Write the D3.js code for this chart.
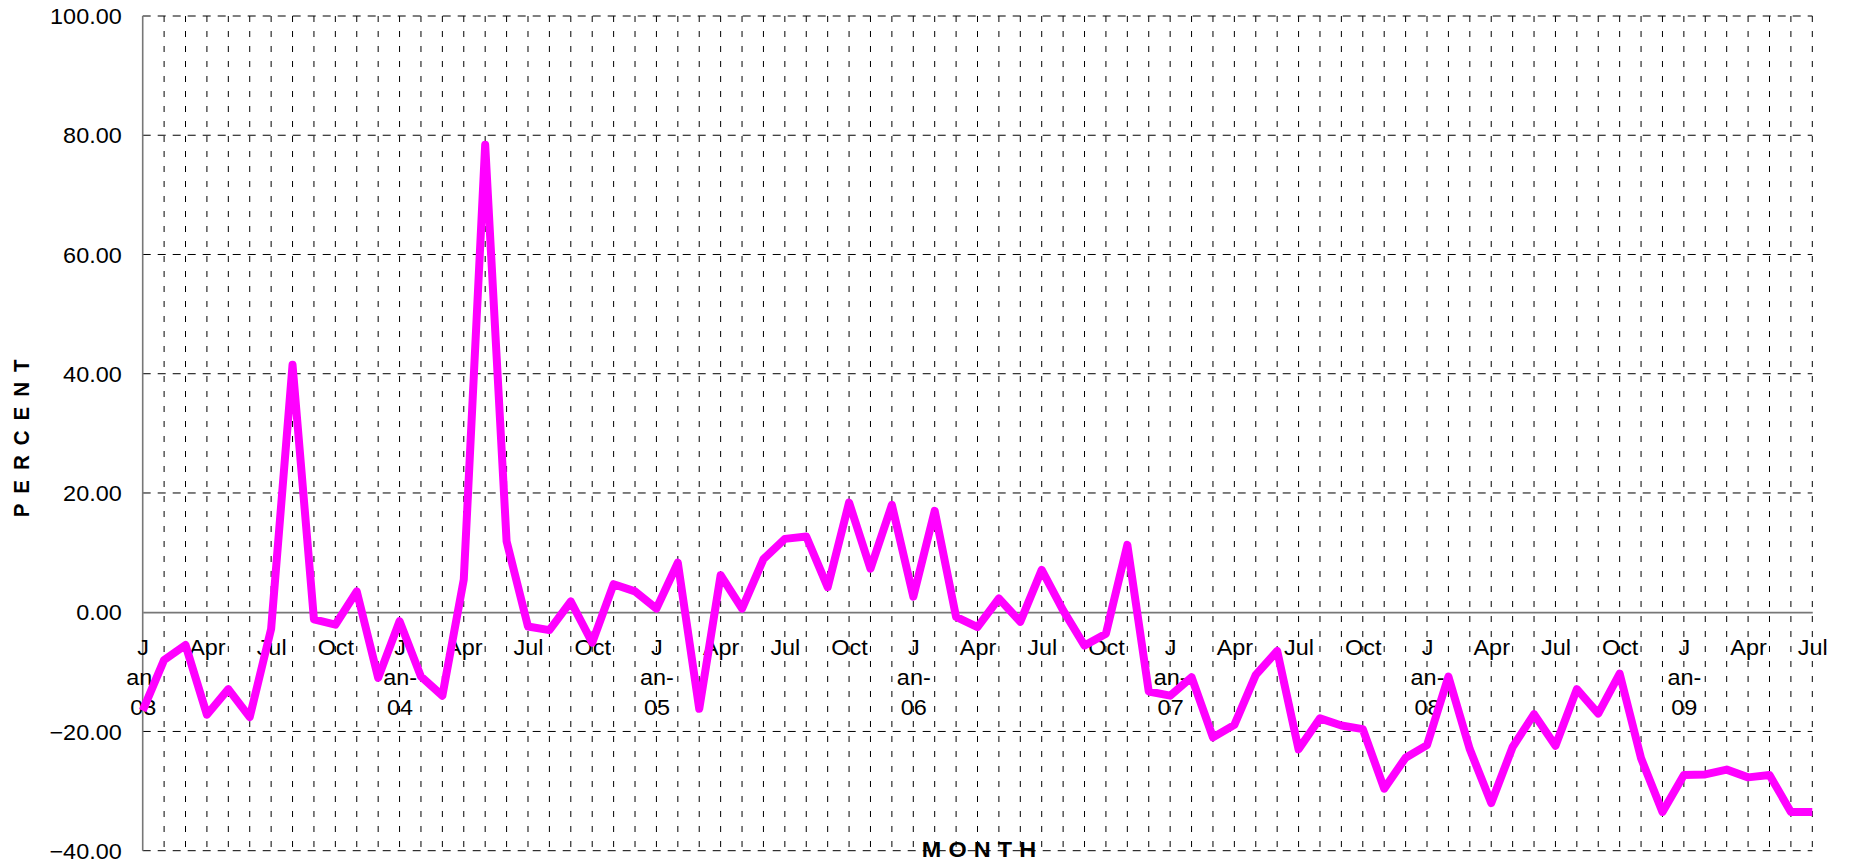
<!DOCTYPE html>
<html>
<head>
<meta charset="utf-8">
<script src="https://cdn.jsdelivr.net/npm/d3@7"></script>
<style>
  html, body { margin: 0; padding: 0; background: #fff; }
  svg { display: block; font-family: 'Liberation Sans', Arial, sans-serif; }
</style>
</head>
<body>
<div id="chart"></div>
<script>
const categories = [
  'Jan-03', 'Feb-03', 'Mar-03', 'Apr-03', 'May-03', 'Jun-03', 'Jul-03', 'Aug-03', 'Sep-03', 'Oct-03', 'Nov-03', 'Dec-03',
  'Jan-04', 'Feb-04', 'Mar-04', 'Apr-04', 'May-04', 'Jun-04', 'Jul-04', 'Aug-04', 'Sep-04', 'Oct-04', 'Nov-04', 'Dec-04',
  'Jan-05', 'Feb-05', 'Mar-05', 'Apr-05', 'May-05', 'Jun-05', 'Jul-05', 'Aug-05', 'Sep-05', 'Oct-05', 'Nov-05', 'Dec-05',
  'Jan-06', 'Feb-06', 'Mar-06', 'Apr-06', 'May-06', 'Jun-06', 'Jul-06', 'Aug-06', 'Sep-06', 'Oct-06', 'Nov-06', 'Dec-06',
  'Jan-07', 'Feb-07', 'Mar-07', 'Apr-07', 'May-07', 'Jun-07', 'Jul-07', 'Aug-07', 'Sep-07', 'Oct-07', 'Nov-07', 'Dec-07',
  'Jan-08', 'Feb-08', 'Mar-08', 'Apr-08', 'May-08', 'Jun-08', 'Jul-08', 'Aug-08', 'Sep-08', 'Oct-08', 'Nov-08', 'Dec-08',
  'Jan-09', 'Feb-09', 'Mar-09', 'Apr-09', 'May-09', 'Jun-09', 'Jul-09',
];

const percentChange = [
  -16.5, -8.0, -5.5, -17.2, -12.9, -17.6, -2.8, 41.5, -1.2, -2.1, 3.5, -11.0,
  -1.5, -10.8, -14.0, 5.5, 78.4, 11.9, -2.4, -3.0, 1.8, -5.1, 4.7, 3.5,
  0.6, 8.3, -16.2, 6.2, 0.6, 8.9, 12.3, 12.7, 4.2, 18.4, 7.3, 18.0,
  2.6, 17.0, -0.8, -2.5, 2.3, -1.6, 7.1, 0.3, -5.6, -3.6, 11.3, -13.3,
  -14.0, -10.9, -21.0, -18.9, -10.5, -6.5, -23.0, -17.8, -19.0, -19.6, -29.6, -24.4,
  -22.3, -10.8, -23.0, -32.0, -22.6, -17.1, -22.4, -12.9, -17.0, -10.3, -24.5, -33.5,
  -27.3, -27.2, -26.4, -27.7, -27.3, -33.5, -33.5,
];

const yTicks = [-40, -20, 0, 20, 40, 60, 80, 100];

// quarterly tick labels, January ones wrap over three lines
const xTickLabels = {
  'Jan-03': ['J', 'an-', '03'], 'Apr-03': ['Apr'], 'Jul-03': ['Jul'], 'Oct-03': ['Oct'],
  'Jan-04': ['J', 'an-', '04'], 'Apr-04': ['Apr'], 'Jul-04': ['Jul'], 'Oct-04': ['Oct'],
  'Jan-05': ['J', 'an-', '05'], 'Apr-05': ['Apr'], 'Jul-05': ['Jul'], 'Oct-05': ['Oct'],
  'Jan-06': ['J', 'an-', '06'], 'Apr-06': ['Apr'], 'Jul-06': ['Jul'], 'Oct-06': ['Oct'],
  'Jan-07': ['J', 'an-', '07'], 'Apr-07': ['Apr'], 'Jul-07': ['Jul'], 'Oct-07': ['Oct'],
  'Jan-08': ['J', 'an-', '08'], 'Apr-08': ['Apr'], 'Jul-08': ['Jul'], 'Oct-08': ['Oct'],
  'Jan-09': ['J', 'an-', '09'], 'Apr-09': ['Apr'], 'Jul-09': ['Jul'],
};

const WIDTH = 1852;
const HEIGHT = 864;
const LEFT = 142.7;
const RIGHT = 1812.3;
const TOP = 16;
const BOTTOM = 850.7;
const STRETCH = 1.09; // text in the original is drawn a little wide
const FONT_SIZE = '21.5px';

const svg = d3.create('svg').attr('width', WIDTH).attr('height', HEIGHT);

const xScale = d3.scalePoint().domain(categories).range([LEFT, RIGHT]);
const yScale = d3.scaleLinear().domain([-40, 100]).range([BOTTOM, TOP]);

// vertical dashed grid, one per month
svg
  .append('g')
  .selectAll('line')
  .data(categories.slice(1))
  .join('line')
  .attr('x1', (d) => xScale(d))
  .attr('x2', (d) => xScale(d))
  .attr('y1', TOP)
  .attr('y2', BOTTOM)
  .attr('stroke', '#000')
  .attr('stroke-width', 1)
  .attr('stroke-dasharray', '6,9');

// horizontal dashed grid
svg
  .append('g')
  .selectAll('line')
  .data(yTicks.filter((v) => v !== 0))
  .join('line')
  .attr('x1', LEFT)
  .attr('x2', RIGHT)
  .attr('y1', (d) => yScale(d))
  .attr('y2', (d) => yScale(d))
  .attr('stroke', '#000')
  .attr('stroke-width', 1)
  .attr('stroke-dasharray', '8,7');

// y axis labels
const axisLeft = d3
  .axisLeft(yScale)
  .tickValues(yTicks)
  .tickFormat(d3.format('.2f'))
  .tickSize(0);

const yAxis = svg
  .append('g')
  .attr('transform', `translate(${LEFT}, 0)`)
  .call(axisLeft);
yAxis.select('.domain').remove();
yAxis
  .selectAll('text')
  .attr('x', -21 / STRETCH)
  .attr('dy', '0.36em')
  .attr('transform', `scale(${STRETCH},1)`)
  .style('font-family', "'Liberation Sans', Arial, sans-serif")
  .style('font-size', FONT_SIZE)
  .style('fill', '#000');

// left axis line
svg
  .append('line')
  .attr('x1', LEFT)
  .attr('x2', LEFT)
  .attr('y1', TOP)
  .attr('y2', BOTTOM)
  .attr('stroke', '#777')
  .attr('stroke-width', 1.6);

// category axis sits on zero
const axisBottom = d3
  .axisBottom(xScale)
  .tickValues(Object.keys(xTickLabels))
  .tickSize(0)
  .tickFormat('');

const xAxis = svg
  .append('g')
  .attr('transform', `translate(0, ${yScale(0)})`)
  .call(axisBottom);
xAxis
  .select('.domain')
  .attr('stroke', '#777')
  .attr('stroke-width', 1.8);

xAxis
  .selectAll('.tick text')
  .attr('y', 0)
  .attr('dy', 0)
  .attr('transform', `scale(${STRETCH},1)`)
  .style('font-family', "'Liberation Sans', Arial, sans-serif")
  .style('font-size', FONT_SIZE)
  .style('fill', '#000')
  .selectAll('tspan')
  .data((d) => xTickLabels[d])
  .join('tspan')
  .attr('x', 0)
  .attr('y', (_, i) => 42.5 + i * 30)
  .text((d) => d);

// the series
const line = d3
  .line()
  .x((d, i) => xScale(categories[i]))
  .y((d) => yScale(d));

svg
  .append('path')
  .datum(percentChange)
  .attr('d', line)
  .attr('fill', 'none')
  .attr('stroke', '#ff00ff')
  .attr('stroke-width', 8)
  .attr('stroke-linejoin', 'round');

// axis titles
svg
  .append('text')
  .attr('transform', `translate(29, ${(TOP + BOTTOM) / 2}) rotate(-90) scale(1,${STRETCH})`)
  .attr('text-anchor', 'middle')
  .style('font-size', '20.5px')
  .style('font-weight', 'bold')
  .style('letter-spacing', '10px')
  .text('PERCENT');

svg
  .append('text')
  .attr('transform', `translate(${(LEFT + RIGHT) / 2 + 5}, 857) scale(${STRETCH},1)`)
  .attr('text-anchor', 'middle')
  .style('font-size', '21.5px')
  .style('font-weight', 'bold')
  .style('letter-spacing', '6.5px')
  .text('MONTH');

document.getElementById('chart').appendChild(svg.node());
</script>
</body>
</html>
